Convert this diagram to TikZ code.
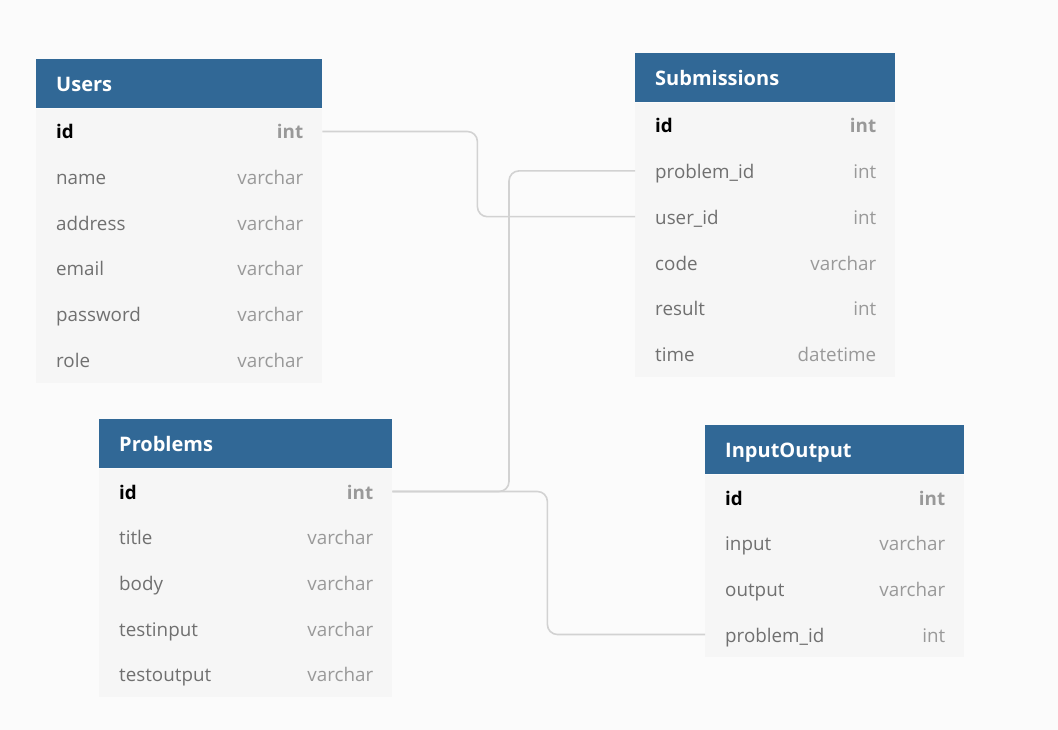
\documentclass[tikz,border=0pt]{standalone}
\usepackage{fontspec}
\setmainfont{Open Sans}
\usetikzlibrary{positioning}

\definecolor{headblue}{HTML}{316896}
\definecolor{rowgray}{HTML}{F6F6F6}
\definecolor{bggray}{HTML}{FBFBFB}
\definecolor{namegray}{HTML}{707070}
\definecolor{typegray}{HTML}{999999}
\definecolor{relgray}{HTML}{D2D2D2}

\begin{document}
\begin{tikzpicture}[x=1pt, y=-1pt]
    \tikzset{
        head/.style={anchor=north west, fill=headblue, text=white, inner xsep=20pt,
            minimum height=49pt, align=left, text height=17pt, text depth=1pt,
            font=\bfseries\fontsize{20}{22}\selectfont},
        field/.style={anchor=north west, fill=rowgray, text=namegray, inner xsep=20pt,
            minimum height=45.8pt, align=left, text height=16pt, text depth=1pt,
            font=\fontsize{18.8}{22}\selectfont},
        keyfield/.style={field, text=black, font=\bfseries\fontsize{18.8}{22}\selectfont},
        ftype/.style={anchor=east, text=typegray, inner sep=0pt, text height=16pt, text depth=1pt,
            font=\fontsize{18.8}{22}\selectfont},
        keytype/.style={ftype, font=\bfseries\fontsize{18.8}{22}\selectfont},
        rel/.style={draw=relgray, line width=1.6pt, rounded corners=10pt}
    }

    \fill[bggray] (0,0) rectangle (1058,730);

    % Users
    \node[head, text width=246pt] (users) at (36,59) {Users};
    \node[keyfield, text width=246pt, below=0pt of users.south west, anchor=north west] (users-1) {id};
    \node[keytype] (users-1-t) at ([xshift=-19pt]users-1.east) {int};
    \foreach \f/\t [count=\i from 2] in {name/varchar, address/varchar, email/varchar, password/varchar, role/varchar}{
        \node[field, text width=246pt] (users-\i) at (36, {108+(\i-1)*45.8}) {\f};
        \node[ftype] (users-\i-t) at ([xshift=-19pt]users-\i.east) {\t};
    }

    % Submissions
    \node[head, text width=220pt] (sub) at (635,53) {Submissions};
    \node[keyfield, text width=220pt, below=0pt of sub.south west, anchor=north west] (sub-1) {id};
    \node[keytype] (sub-1-t) at ([xshift=-19pt]sub-1.east) {int};
    \foreach \f/\t [count=\i from 2] in {problem\_id/int, user\_id/int, code/varchar, result/int, time/datetime}{
        \node[field, text width=220pt] (sub-\i) at (635, {102+(\i-1)*45.8}) {\f};
        \node[ftype] (sub-\i-t) at ([xshift=-19pt]sub-\i.east) {\t};
    }

    % Problems
    \node[head, text width=253pt] (prob) at (99,419) {Problems};
    \node[keyfield, text width=253pt, below=0pt of prob.south west, anchor=north west] (prob-1) {id};
    \node[keytype] (prob-1-t) at ([xshift=-19pt]prob-1.east) {int};
    \foreach \f/\t [count=\i from 2] in {title/varchar, body/varchar, testinput/varchar, testoutput/varchar}{
        \node[field, text width=253pt] (prob-\i) at (99, {468+(\i-1)*45.8}) {\f};
        \node[ftype] (prob-\i-t) at ([xshift=-19pt]prob-\i.east) {\t};
    }

    % InputOutput
    \node[head, text width=219pt] (io) at (705,425) {InputOutput};
    \node[keyfield, text width=219pt, below=0pt of io.south west, anchor=north west] (io-1) {id};
    \node[keytype] (io-1-t) at ([xshift=-19pt]io-1.east) {int};
    \foreach \f/\t [count=\i from 2] in {input/varchar, output/varchar, problem\_id/int}{
        \node[field, text width=219pt] (io-\i) at (705, {474+(\i-1)*45.8}) {\f};
        \node[ftype] (io-\i-t) at ([xshift=-19pt]io-\i.east) {\t};
    }

    % relations
    \draw[rel] (users-1.east) -- ++(155,0) |- (sub-3.west);
    \draw[rel] (sub-2.west) -- ++(-126,0) |- (prob-1.east);
    \draw[rel] (prob-1.east) -- ++(155,0) |- (io-4.west);

\end{tikzpicture}
\end{document}
